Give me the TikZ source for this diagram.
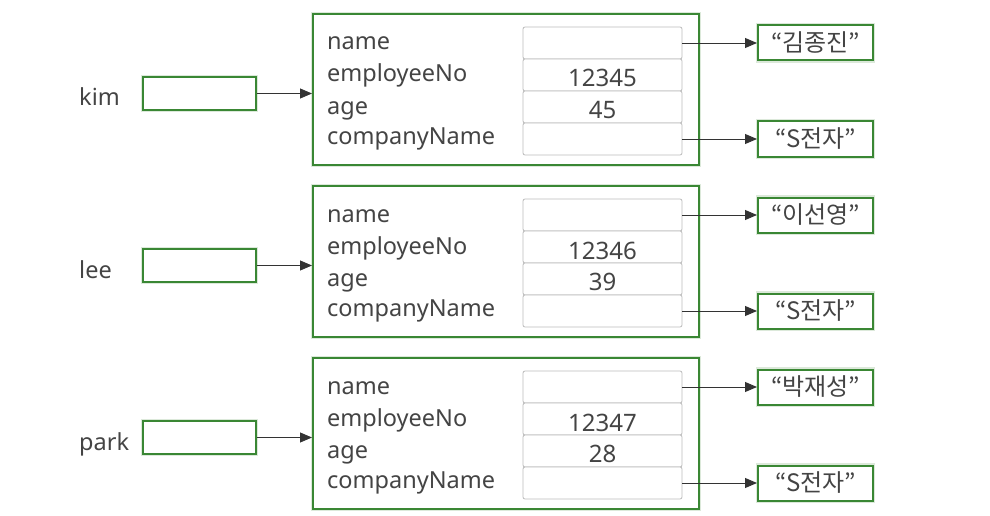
\documentclass[tikz,border=0pt]{standalone}
\usepackage{fontspec}
\setmainfont{Noto Sans}
\newfontfamily\kr{Noto Sans CJK KR}
\usetikzlibrary{arrows.meta}
\definecolor{grn}{RGB}{58,135,52}
\definecolor{txt}{RGB}{68,68,68}
\definecolor{cellc}{RGB}{188,188,188}
\begin{document}
\begin{tikzpicture}[x=1pt,y=-1pt,
  gbox/.style={draw=grn, line width=2pt, fill=white, inner sep=0pt,
    preaction={draw=grn!18, line width=4.5pt}},
  cellbox/.style={draw=cellc, line width=0.8pt, rounded corners=2pt, fill=white,
    minimum width=159pt, minimum height=32pt, inner sep=0pt},
  lbl/.style={text=txt, font=\fontsize{23.5}{24}\selectfont, anchor=base west, inner sep=0pt},
  val/.style={text=txt, font=\fontsize{24}{24}\selectfont, anchor=base, inner sep=0pt},
  strbox/.style={gbox, minimum width=115pt, minimum height=35pt, text=txt,
    font=\kr\fontsize{24}{24}\selectfont},
  arr/.style={draw=black!80, line width=0.9pt, -{Triangle[length=12pt,width=10pt]}}]
\useasboundingbox (0,0) rectangle (990,516);
\foreach \i/\nm/\no/\ag/\kn in {0/kim/12345/45/김종진, 1/lee/12346/39/이선영, 2/park/12347/28/박재성}{
  \pgfmathsetmacro\o{172*\i}
  % object box
  \node[gbox, minimum width=386pt, minimum height=151pt] (obj\i) at (506,{89.5+\o}) {};
  % reference variable
  \node[gbox, minimum width=113pt, minimum height=33pt] (ref\i) at (199.5,{93.5+\o}) {};
  \node[lbl] (rl\i) at (79,{106+\o}) {\nm};
  % fields
  \node[lbl] (fa\i) at (327,{50+\o}) {name};
  \node[lbl] (fb\i) at (327,{82+\o}) {employeeNo};
  \node[lbl] (fc\i) at (327,{114+\o}) {age};
  \node[lbl] (fd\i) at (327,{144+\o}) {companyName};
  % cells
  \node[cellbox] (ca\i) at (602.5,{43+\o}) {};
  \node[cellbox] (cb\i) at (602.5,{75+\o}) {};
  \node[cellbox] (cc\i) at (602.5,{107+\o}) {};
  \node[cellbox] (cd\i) at (602.5,{139+\o}) {};
  \node[val] (vb\i) at (602.5,{87+\o}) {\no};
  \node[val] (vc\i) at (602.5,{118+\o}) {\ag};
  % string objects
  \node[strbox] (sa\i) at (815.5,{43+\o}) {“\kn”};
  \node[strbox] (sd\i) at (815.5,{139+\o}) {“S전자”};
  % connectors
  \draw[arr] (ref\i.east) -- (ref\i.east -| obj\i.west);
  \draw[arr] (ca\i.east) -- (sa\i.west);
  \draw[arr] (cd\i.east) -- (sd\i.west);
}
\end{tikzpicture}
\end{document}
